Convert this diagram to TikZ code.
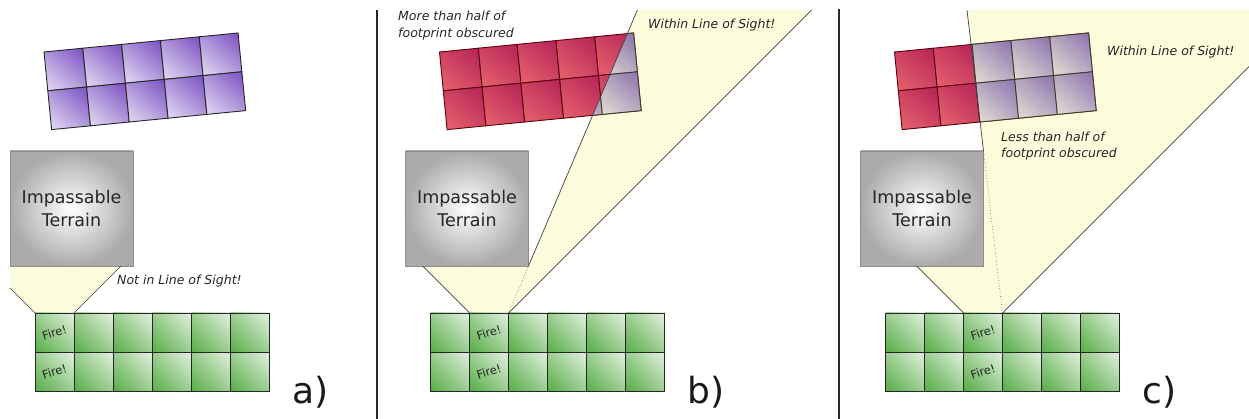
\documentclass[tikz,border=0pt]{standalone}
\usepackage{fontspec}
\setmainfont{DejaVu Sans}
\usetikzlibrary{calc}
\definecolor{gridgreen}{RGB}{58,158,38}
\definecolor{purp}{RGB}{96,44,182}
\definecolor{crimson}{RGB}{168,18,82}
\definecolor{salmon}{RGB}{244,116,114}
\definecolor{mpurp}{RGB}{118,86,164}
\definecolor{lyellow}{RGB}{250,250,222}
\definecolor{conefill}{RGB}{252,252,221}
\definecolor{redline}{RGB}{90,0,10}
\definecolor{visline}{RGB}{60,58,40}
\pgfdeclareverticalshading{greenshade}{100bp}{color(0bp)=(gridgreen); color(100bp)=(white)}
\pgfdeclareverticalshading{purpleshade}{100bp}{color(0bp)=(white); color(100bp)=(purp)}
\pgfdeclareverticalshading{redshade}{100bp}{color(0bp)=(salmon); color(100bp)=(crimson)}
\pgfdeclareverticalshading{visshade}{100bp}{color(0bp)=(lyellow); color(100bp)=(mpurp)}
\tikzset{
  greencell/.style={shade, shading=greenshade, shading angle=-45, draw=black!85, line width=0.9},
  purplecell/.style={shade, shading=purpleshade, shading angle=-40, draw=black!85, line width=0.9},
  redcell/.style={shade, shading=redshade, shading angle=-40, draw=redline, line width=0.9},
  viscell/.style={shade, shading=visshade, shading angle=-40, draw=visline, line width=0.9},
  cone/.style={fill=conefill},
  sightline/.style={draw=black!75, line width=0.7},
  hiddenline/.style={draw=black!55, dotted, line width=0.7},
  terrain/.style={rectangle, draw=black!45, line width=0.8, inner color=white, outer color=black!33,
     minimum width=123pt, minimum height=115pt, outer sep=0pt, align=center, text=black!85,
     font=\fontsize{17.5}{22.5}\selectfont},
  firetext/.style={font=\fontsize{11.5}{13}\selectfont, text=black!85, rotate=18, inner sep=0pt},
  note/.style={font=\fontsize{12.5}{16.5}\selectfont\itshape, text=black!85, anchor=west, inner sep=0pt, align=left},
  panelletter/.style={font=\fontsize{36}{40}\selectfont, text=black!90, anchor=base west, inner sep=0pt},
  separator/.style={draw=black!85, line width=1.6}
}
\newcommand{\cellgrid}[3]{%
  \foreach \ci in {1,...,#1}{\foreach \cj in {1,...,#2}{%
    \path[#3] ({39*(\ci-1)},{39*(\cj-1)}) rectangle +(39,39);}}}
\begin{document}
\begin{tikzpicture}[x=1pt,y=-1pt]
\useasboundingbox (0,0) rectangle (1249,419);

% ---------------- panel a ----------------
\begin{scope}
  \coordinate (aL) at (10,288);
  \coordinate (aFL) at (35,313);
  \coordinate (aFR) at (74,313);
  \path[cone] (10,266) -- (121,266) -- (aFR) -- (aFL) -- (aL) -- cycle;
  \begin{scope}[shift={(44,52)}, rotate=5.6]
    \cellgrid{5}{2}{purplecell}
  \end{scope}
  \begin{scope}[shift={(35,313)}]
    \cellgrid{6}{2}{greencell}
  \end{scope}
  \node[terrain] (ta) at (71.5,208.5) {Impassable\\Terrain};
  \coordinate (aR) at (121,266);
  \draw[sightline] (aL) -- (aFL);
  \draw[sightline] (aFR) -- (aR);
  \node[firetext] (fa1) at (54.5,332.5) {Fire!};
  \node[firetext] (fa2) at (54.5,371.5) {Fire!};
  \node[note] (nla) at (117,281) {Not in Line of Sight!};
  \node[panelletter] (pa) at (292,403) {a)};
\end{scope}

\draw[separator] (376.7,10) -- (376.7,419);

% ---------------- panel b ----------------
\begin{scope}[shift={(395.5,0)}]
  \coordinate (bFL) at (74,313);
  \coordinate (bFR) at (113,313);
  \coordinate (bL) at (27,266);
  \coordinate (bT) at (241.9,10);
  \coordinate (bRT) at (416,10);
  \path[cone] (bFL) -- (bL) -- (133,266) -- (bT) -- (bRT) -- (bFR) -- cycle;
  \begin{scope}[shift={(44,52)}, rotate=5.6]
    \cellgrid{5}{2}{redcell}
  \end{scope}
  \begin{scope}
    \clip (bFL) -- (bL) -- (133,266) -- (bT) -- (bRT) -- (bFR) -- cycle;
    \begin{scope}[shift={(44,52)}, rotate=5.6]
      \cellgrid{5}{2}{viscell}
    \end{scope}
  \end{scope}
  \begin{scope}[shift={(35,313)}]
    \cellgrid{6}{2}{greencell}
  \end{scope}
  \node[terrain] (tb) at (71.5,208.5) {Impassable\\Terrain};
  \draw[sightline] (bL) -- (bFL);
  \draw[hiddenline] (bFR) -- (tb.south east);
  \draw[sightline] (tb.south east) -- (bT);
  \draw[sightline] (bFR) -- (bRT);
  \node[firetext] (fb1) at (93.5,332.5) {Fire!};
  \node[firetext] (fb2) at (93.5,371.5) {Fire!};
  \node[note] (nmb) at (2.5,25.5) {More than half of\\footprint obscured};
  \node[note] (nwb) at (252.5,25) {Within Line of Sight!};
  \node[panelletter] (pb) at (291.5,403) {b)};
\end{scope}

\draw[separator] (839,9) -- (839,419);

% ---------------- panel c ----------------
\begin{scope}[shift={(850.5,0)}]
  \coordinate (cFL) at (113,313);
  \coordinate (cFR) at (152,313);
  \coordinate (cL) at (66,266);
  \coordinate (cT) at (116.5,10);
  \coordinate (cRT) at (398.5,66.5);
  \path[cone] (cFL) -- (cL) -- (133,266) -- (133,151) -- (cT) -- (398.5,10) -- (cRT) -- (cFR) -- cycle;
  \begin{scope}[shift={(44,52)}, rotate=5.6]
    \cellgrid{5}{2}{redcell}
  \end{scope}
  \begin{scope}
    \clip (cFL) -- (cL) -- (133,266) -- (133,151) -- (cT) -- (398.5,10) -- (cRT) -- (cFR) -- cycle;
    \begin{scope}[shift={(44,52)}, rotate=5.6]
      \cellgrid{5}{2}{viscell}
    \end{scope}
  \end{scope}
  \begin{scope}[shift={(35,313)}]
    \cellgrid{6}{2}{greencell}
  \end{scope}
  \node[terrain] (tc) at (71.5,208.5) {Impassable\\Terrain};
  \draw[sightline] (cL) -- (cFL);
  \draw[hiddenline] (cFR) -- (tc.north east);
  \draw[sightline] (tc.north east) -- (cT);
  \draw[sightline] (cFR) -- (cRT);
  \node[firetext] (fc1) at (132.5,332.5) {Fire!};
  \node[firetext] (fc2) at (132.5,371.5) {Fire!};
  \node[note] (nwc) at (256.5,52) {Within Line of Sight!};
  \node[note] (nlc) at (150.5,146) {Less than half of\\footprint obscured};
  \node[panelletter] (pc) at (291.5,403) {c)};
\end{scope}
\end{tikzpicture}
\end{document}
